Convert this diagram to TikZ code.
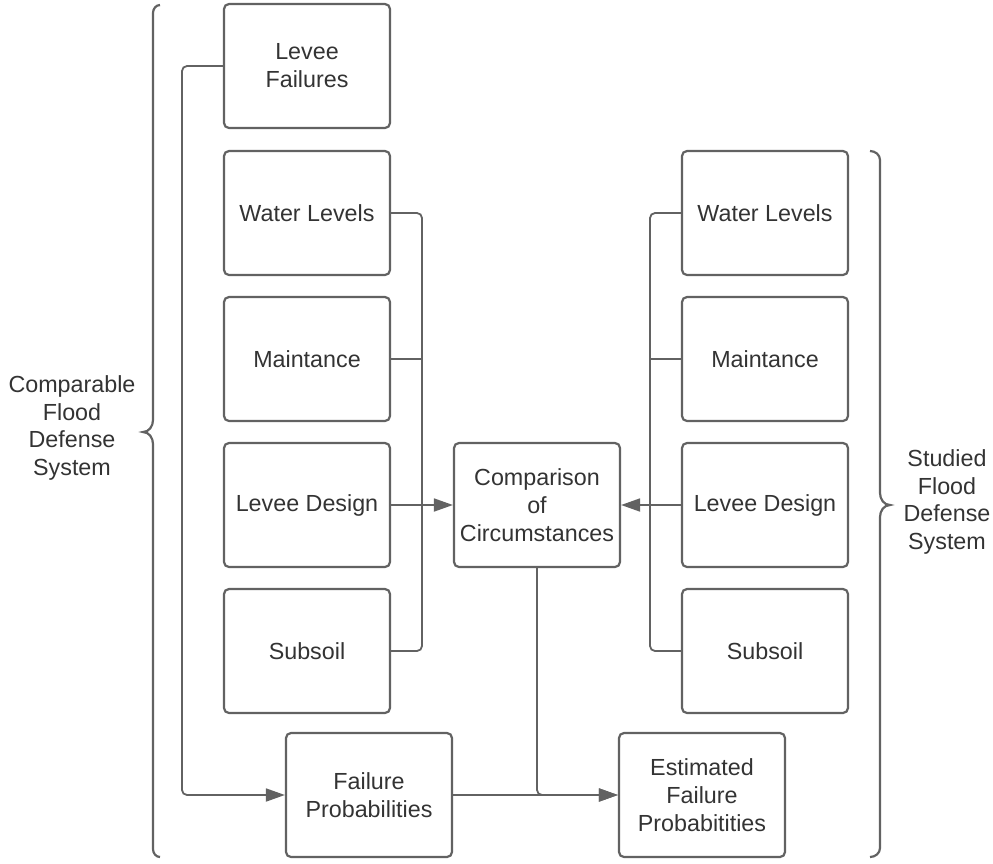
\documentclass[tikz,border=0pt]{standalone}
\usepackage{fontspec}
\setmainfont{Liberation Sans}
\usetikzlibrary{arrows.meta}
\definecolor{edge}{HTML}{626262}
\definecolor{ink}{HTML}{333333}
\tikzset{
  stepbox/.style={draw=edge, line width=2.2pt, rounded corners=5pt,
    minimum width=166pt, minimum height=124pt, inner sep=0pt,
    align=center, text=ink, font=\fontsize{23.3}{28}\selectfont},
  sidelabel/.style={align=center, text=ink, font=\fontsize{23.3}{27.5}\selectfont},
  link/.style={draw=edge, line width=1.8pt, rounded corners=5pt},
  flow/.style={link, -{Triangle[length=19pt,width=13pt]}},
  brace/.style={draw=edge, line width=2.2pt}
}
\begin{document}
\begin{tikzpicture}[x=1pt,y=-1pt]
\useasboundingbox (0,0) rectangle (993,863);

% comparable system (left column)
\node[stepbox] (lf) at (307,66)  {Levee\\Failures};
\node[stepbox] (wl) at (307,213) {Water Levels};
\node[stepbox] (ml) at (307,359) {Maintance};
\node[stepbox] (dl) at (307,505) {Levee Design};
\node[stepbox] (sl) at (307,651) {Subsoil};

% studied system (right column)
\node[stepbox] (wr) at (765,213) {Water Levels};
\node[stepbox] (mr) at (765,359) {Maintance};
\node[stepbox] (dr) at (765,505) {Levee Design};
\node[stepbox] (sr) at (765,651) {Subsoil};

% centre and results
\node[stepbox] (cmp) at (537,505) {Comparison\\of\\Circumstances};
\node[stepbox] (fp)  at (369,795) {Failure\\Probabilities};
\node[stepbox] (est) at (702,795) {Estimated\\Failure\\Probabitities};

% side labels
\node[sidelabel] (labl) at (72,428)  {Comparable\\Flood\\Defense\\System};
\node[sidelabel] (labr) at (947,502) {Studied\\Flood\\Defense\\System};

% braces
\draw[brace] (160,5) to[out=180,in=90] (153,13) -- (153,420)
  to[out=-90,in=0] (143,432) to[out=0,in=90] (153,444) -- (153,849)
  to[out=-90,in=180] (160,857);
\draw[brace] (870,151) to[out=0,in=90] (880,160) -- (880,493)
  to[out=-90,in=180] (890,505) to[out=180,in=90] (880,517) -- (880,848)
  to[out=-90,in=0] (870,857);

% levee failures feed the failure probabilities
\draw[flow] (lf.west) -- (182,66) -- (182,795) -- (fp.west);

% left trunk
\draw[link] (wl.east) -- (422,213) -- (422,651) -- (sl.east);
\draw[link] (ml.east) -- (422,359);
\draw[flow] (dl.east) -- (cmp.west);

% right trunk
\draw[link] (wr.west) -- (650,213) -- (650,651) -- (sr.west);
\draw[link] (mr.west) -- (650,359);
\draw[flow] (dr.west) -- (cmp.east);

% results
\draw[flow] (cmp.south) -- (537,795) -- (est.west);
\draw[flow] (fp.east) -- (est.west);
\end{tikzpicture}
\end{document}
